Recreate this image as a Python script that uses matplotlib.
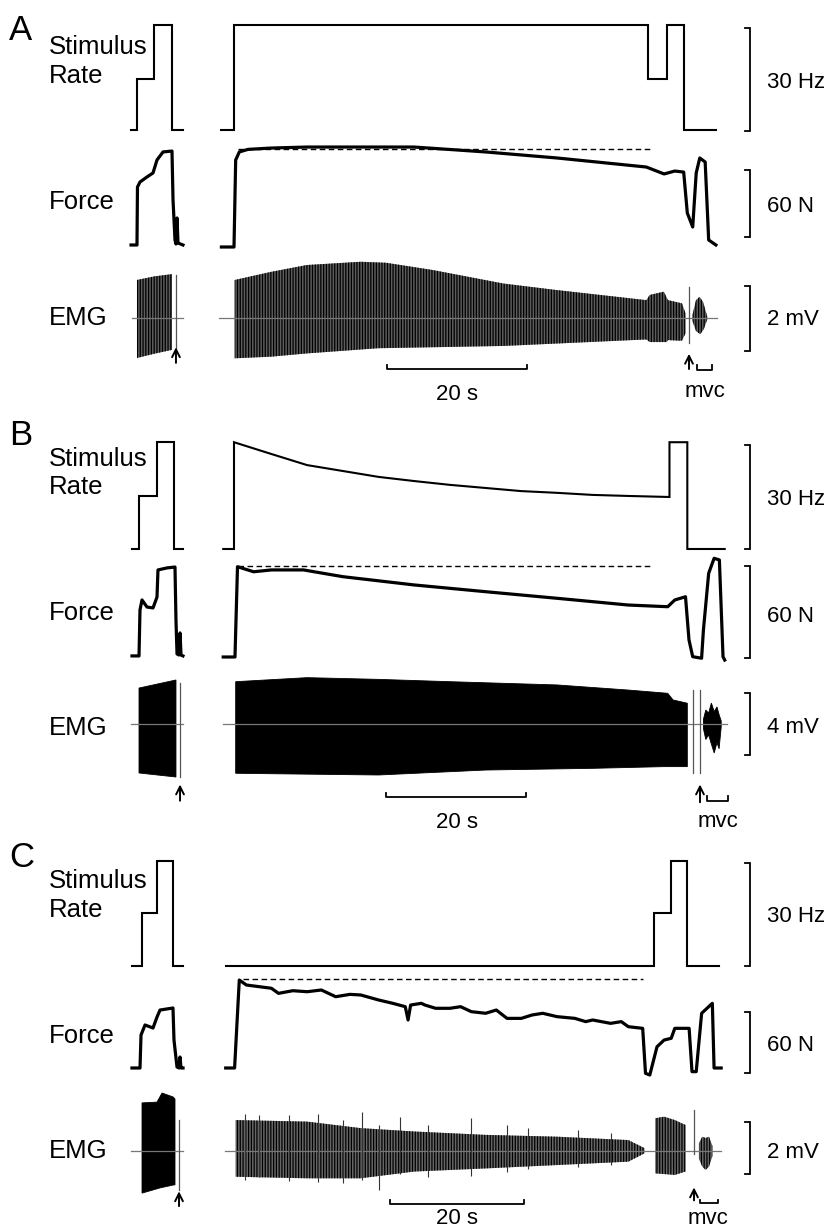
import numpy as np
import matplotlib
matplotlib.use('Agg')
import matplotlib.pyplot as plt

plt.rcParams['font.family'] = ['Liberation Sans', 'DejaVu Sans']
plt.rcParams['hatch.linewidth'] = 0.9

W, H = 827, 1230

# ---------------- panel A (time in s, rate in Hz, force in N, EMG in mV)
a_stim_test_t = [-14.7, -13.9, -13.9, -11.4, -11.4, -8.9, -8.9, -7.3]
a_stim_test_hz = [0, 0, 15, 15, 30.5, 30.5, 0, 0]
a_stim_t = [-1.8, 0, 0, 59.2, 59.2, 61.8, 61.8, 64.3, 64.3, 68.9]
a_stim_hz = [0, 0, 30.5, 30.5, 15, 15, 30.5, 30.5, 0, 0]

a_force_test_t = [-14.71, -13.86, -13.79, -13.43, -12.43, -11.57, -11.0, -10.14, -8.86,
                  -8.71, -8.43, -8.29, -8.14, -8.0, -7.29]
a_force_test_n = [0.9, 0.9, 52.8, 57.3, 61.8, 65.4, 77.0, 84.2, 85.0, 41.2, 5.4, 1.8, 25.1, 2.7, 0.9]
a_force_t = [-1.8, 0, 0.24, 0.76, 2.0, 5.34, 10.44, 25.74, 35.94, 46.14, 58.9, 61.44, 62.97,
             64.24, 64.76, 65.53, 66.03, 66.54, 67.31, 67.81, 68.84]
a_force_n = [-0.9, -0.9, 77.0, 84.2, 86.5, 87.7, 88.6, 88.6, 84.2, 78.8, 70.7, 64.5, 67.1,
             66.2, 29.5, 17.0, 65.4, 78.8, 75.2, 5.4, 0.9]
a_ref_force = 86.8
a_ref_span = [0.5, 59.9]

a_emg_test_top_t = [-13.86, -11.4, -8.86]
a_emg_test_top = [1.17, 1.28, 1.35]
a_emg_test_bot_t = [-13.86, -11.4, -8.86]
a_emg_test_bot = [-1.23, -1.1, -0.98]
a_emg_top_t = [0.1, 5.3, 10.4, 18.1, 21.7, 28.3, 38.5, 46.1, 58.9, 59.4, 61.4, 62.0, 64.0, 64.5]
a_emg_top = [1.17, 1.42, 1.63, 1.73, 1.70, 1.48, 1.06, 0.86, 0.55, 0.71, 0.81, 0.55, 0.45, 0.14]
a_emg_bot_t = [0.1, 5.3, 10.4, 20.6, 38.5, 58.9, 59.4, 61.8, 62.0, 64.0, 64.5]
a_emg_bot = [-1.24, -1.19, -1.09, -0.93, -0.86, -0.66, -0.74, -0.74, -0.68, -0.70, -0.47]
a_mvc_top_t = [65.5, 66.0, 66.5, 67.0, 67.6]
a_mvc_top = [0.1, 0.55, 0.65, 0.5, 0.05]
a_mvc_bot_t = [65.5, 66.0, 66.6, 67.1, 67.6]
a_mvc_bot = [-0.1, -0.4, -0.5, -0.35, -0.05]
a_emg_spans = [[-14.6, -7.3], [-2.1, 69.0]]
a_emg_lines = [[-8.29, -0.92, 1.32], [65.0, -0.77, 0.95]]
a_mvc = [66.1, 68.3]

# ---------------- panel B
b_stim_test_t = [-14.57, -13.57, -13.57, -11.0, -11.0, -8.57, -8.57, -7.29]
b_stim_test_hz = [0, 0, 15.3, 15.3, 30.8, 30.8, 0, 0]
b_stim_t = [-1.54, 0, 0, 5.34, 10.44, 15.54, 20.64, 25.74, 30.84, 35.94, 41.04, 46.14,
            51.24, 56.34, 62.21, 62.21, 64.76, 64.76, 70.1]
b_stim_hz = [0, 0, 30.8, 27.4, 24.2, 22.5, 20.8, 19.6, 18.5, 17.6, 16.7, 16.2,
             15.6, 15.3, 15.0, 30.8, 30.8, 0, 0]

b_force_test_t = [-14.57, -13.57, -13.43, -13.14, -12.43, -11.57, -11.0, -10.86, -9.57,
                  -8.43, -8.29, -8.14, -7.86, -7.71, -7.57, -7.29]
b_force_test_n = [0.7, 0.7, 30.7, 37.2, 32.6, 32.0, 39.1, 56.8, 58.1, 58.7, 24.1, 2.0,
                  1.3, 15.7, 1.3, 0.7]
b_force_t = [-1.54, 0.14, 0.5, 2.8, 5.34, 9.93, 15.54, 25.74, 35.94, 46.14, 56.34, 61.96,
             62.97, 64.5, 65.0, 65.53, 66.8, 67.06, 67.81, 68.59, 69.34, 69.86, 70.1]
b_force_n = [0, 0, 58.9, 55.6, 56.8, 56.8, 52.4, 47.0, 42.6, 38.3, 33.9, 32.8,
             37.2, 39.3, 11.1, 0.2, -0.8, 17.6, 54.6, 64.4, 63.3, 0.2, -2.0]
b_ref_force = 59.5
b_ref_span = [0.5, 59.9]

b_emg_test_top_t = [-13.57, -8.29]
b_emg_test_top = [2.32, 2.84]
b_emg_test_bot_t = [-13.57, -8.29]
b_emg_test_bot = [-3.16, -3.42]
b_emg_top_t = [0.24, 10.44, 20.64, 30.84, 46.14, 56.34, 61.96, 62.73, 64.76]
b_emg_top = [2.73, 2.99, 2.88, 2.73, 2.52, 2.19, 1.98, 1.55, 1.34]
b_emg_bot_t = [0.24, 20.64, 35.94, 51.24, 61.44, 64.76]
b_emg_bot = [-3.18, -3.29, -2.97, -2.86, -2.75, -2.75]
b_mvc_top_t = [67.06, 67.4, 67.8, 68.2, 68.6, 69.0, 69.3, 69.6]
b_mvc_top = [0.3, 0.9, 0.7, 1.35, 0.8, 1.1, 0.6, 0.2]
b_mvc_bot_t = [67.06, 67.4, 67.8, 68.2, 68.6, 69.0, 69.3, 69.6]
b_mvc_bot = [-0.3, -1.0, -0.7, -1.3, -1.87, -1.2, -1.6, -0.2]
b_emg_spans = [[-14.71, -7.29], [-1.57, 70.4]]
b_emg_lines = [[-7.71, -3.42, 2.65], [65.53, -3.18, 2.19], [66.54, -3.18, 2.19]]
b_mvc = [67.6, 70.6]

# ---------------- panel C
c_stim_test_t = [-15.25, -13.75, -13.75, -11.51, -11.51, -9.12, -9.12, -7.62]
c_stim_test_hz = [0, 0, 15.5, 15.5, 30.6, 30.6, 0, 0]
c_stim_t = [-1.24, 62.79, 62.79, 65.25, 65.25, 67.76, 67.76, 72.56]
c_stim_hz = [0, 0, 15.5, 15.5, 30.6, 30.6, 0, 0]

c_force_test_t = [-15.25, -14.05, -13.9, -13.3, -12.11, -11.51, -11.06, -9.12, -8.97,
                  -8.52, -8.22, -8.07, -7.92, -7.62]
c_force_test_n = [0, 0, 32.4, 42.3, 39.3, 50.1, 57.0, 59.0, 27.5, 1.0, 0, 10.8, 0, 0]
c_force_t = [-1.24, 0.09, 0.79, 1.85, 5.59, 6.65, 8.79, 10.93, 13.06, 15.2, 17.33, 18.94,
             21.6, 23.73, 25.6, 26.02, 26.4, 28.0, 28.54, 30.14, 32.27, 33.87, 35.47,
             37.61, 39.21, 40.81, 42.94, 44.54, 46.14, 48.28, 50.96, 52.56, 53.62, 56.29,
             57.89, 58.95, 61.09, 61.51, 62.15, 63.23, 64.29, 65.35, 65.89, 68.03, 68.46,
             69.09, 69.9, 71.5, 71.76, 72.82]
c_force_n = [0, 0, 86.5, 81.6, 78.4, 73.4, 76.0, 75.0, 76.7, 70.1, 72.4, 71.8,
             66.9, 63.6, 60.3, 47.2, 61.9, 63.6, 61.9, 58.7, 58.7, 60.3, 55.4,
             53.8, 57.0, 48.8, 48.8, 52.1, 53.8, 50.5, 48.8, 45.6, 47.2, 43.9,
             45.6, 40.6, 39.0, -5.2, -6.9, 20.9, 27.5, 29.2, 39.0, 39.0, -3.6,
             -3.6, 53.8, 63.6, 0, 0]
c_ref_force = 87.2
c_ref_span = [1.3, 61.1]

c_emg_test_top_t = [-13.75, -11.51, -10.76, -9.12, -8.82]
c_emg_test_top = [1.85, 1.88, 2.23, 2.08, 2.0]
c_emg_test_bot_t = [-13.75, -11.06, -9.12, -8.82]
c_emg_test_bot = [-1.62, -1.42, -1.31, -1.3]
c_emg_top_t = [0.25, 10.93, 18.94, 26.94, 37.61, 48.28, 58.95, 61.36]
c_emg_top = [1.19, 1.13, 0.88, 0.75, 0.62, 0.55, 0.42, 0.11]
c_emg_bot_t = [0.25, 10.93, 18.94, 26.94, 37.61, 48.28, 58.95, 61.36]
c_emg_bot = [-0.99, -1.05, -1.05, -0.79, -0.67, -0.54, -0.41, -0.09]
c_spike_t = [1.59, 3.72, 8.26, 12.53, 16.26, 19.19, 21.6, 24.8, 29.0, 35.47, 40.81, 44.0, 51.48, 56.29]
c_spike_top = [1.44, 1.38, 1.38, 1.44, 1.2, 1.51, 1.0, 1.32, 1.0, 1.26, 1.0, 0.9, 0.8, 0.7]
c_spike_bot = [-1.1, -1.0, -1.15, -1.2, -1.24, -1.1, -1.5, -0.9, -1.0, -0.95, -0.8, -0.7, -0.6, -0.55]
c_burst2_top_t = [62.96, 64.29, 65.89, 67.5]
c_burst2_top = [1.26, 1.32, 1.19, 1.0]
c_burst2_bot_t = [62.96, 65.89, 67.5]
c_burst2_bot = [-0.86, -0.92, -0.79]
c_mvc_top_t = [69.5, 70.0, 70.5, 71.0, 71.5]
c_mvc_top = [0.3, 0.55, 0.5, 0.55, 0.2]
c_mvc_bot_t = [69.5, 70.0, 70.5, 71.0, 71.5]
c_mvc_bot = [-0.3, -0.6, -0.73, -0.6, -0.2]
c_emg_spans = [[-15.4, -7.62], [-1.35, 72.8]]
c_emg_lines = [[-8.22, -1.5, 1.19], [68.8, -0.1, 1.58]]
c_mvc = [69.66, 72.35]

# scale bar values
rate_bar = 30
force_bar = 60
emg_bars = [2, 4, 2]
time_bar = 20

fig = plt.figure(figsize=(W / 100, H / 100), dpi=100)


def row_axes(t0, k, base, s):
    # one transparent axes over the whole figure, scaled in data units
    ax = fig.add_axes([0, 0, 1, 1])
    ax.set_xlim(-t0 / k, (W - t0) / k)
    ax.set_ylim((base - H) / s, base / s)
    ax.set_facecolor('none')
    ax.axis('off')
    return ax


def ftext(x, y, s, size, **kw):
    fig.text(x / W, 1 - y / H, s, fontsize=size, va='baseline', **kw)


def bracket(ax, x, y0, y1, tick):
    ax.plot([x - tick, x, x, x - tick], [y0, y0, y1, y1], color='k', lw=1.3,
            solid_joinstyle='miter')


def burst(ax, tt, vt, tb, vb, style):
    fc, hc, hatch = style
    xs = np.concatenate([tt, np.array(tb)[::-1]])
    ys = np.concatenate([vt, np.array(vb)[::-1]])
    if hatch:
        ax.fill(xs, ys, facecolor=fc, edgecolor=hc, hatch=hatch, linewidth=0)
    else:
        ax.fill(xs, ys, facecolor=fc, edgecolor=fc, linewidth=0.6)


solid = ('black', None, None)
striped_a = ('#5c5c5c', 'black', '||||||')
striped_c = ('#666666', 'black', '||||||')

panels = [
    dict(k=7.0, stim=(130, 3.43), force=(246, 1.117), emg=(318, 32.5),
         stim_test=(a_stim_test_t, a_stim_test_hz), stim_main=(a_stim_t, a_stim_hz),
         f_test=(a_force_test_t, a_force_test_n), f_main=(a_force_t, a_force_n),
         ref=(a_ref_force, a_ref_span),
         e_test=(a_emg_test_top_t, a_emg_test_top, a_emg_test_bot_t, a_emg_test_bot),
         e_main=(a_emg_top_t, a_emg_top, a_emg_bot_t, a_emg_bot),
         e_mvc=(a_mvc_top_t, a_mvc_top, a_mvc_bot_t, a_mvc_bot),
         spans=a_emg_spans, lines=a_emg_lines, mvc=a_mvc,
         styles=(striped_a, striped_a, striped_a),
         bars=dict(stim=-0.3, force=8, emg=-1.0, emg_len=emg_bars[0]),
         tbar=(21.86, -1.57), arrows=[(-8.29, -1.38, -0.9), (65.0, -1.57, -1.1)],
         mvc_y=(-1.6, 0.15)),
    dict(k=7.0, stim=(549, 3.467), force=(657, 1.533), emg=(724, 15.5),
         stim_test=(b_stim_test_t, b_stim_test_hz), stim_main=(b_stim_t, b_stim_hz),
         f_test=(b_force_test_t, b_force_test_n), f_main=(b_force_t, b_force_n),
         ref=(b_ref_force, b_ref_span),
         e_test=(b_emg_test_top_t, b_emg_test_top, b_emg_test_bot_t, b_emg_test_bot),
         e_main=(b_emg_top_t, b_emg_top, b_emg_bot_t, b_emg_bot),
         e_mvc=(b_mvc_top_t, b_mvc_top, b_mvc_bot_t, b_mvc_bot),
         spans=b_emg_spans, lines=b_emg_lines, mvc=b_mvc,
         styles=(solid, solid, solid),
         bars=dict(stim=0, force=-0.5, emg=-2.0, emg_len=emg_bars[1]),
         tbar=(21.66, -4.71), arrows=[(-7.71, -4.95, -3.9), (66.57, -5.05, -3.9)],
         mvc_y=(-4.97, 0.32)),
    dict(k=6.69, stim=(966, 3.43), force=(1068, 1.017), emg=(1151, 26.0),
         stim_test=(c_stim_test_t, c_stim_test_hz), stim_main=(c_stim_t, c_stim_hz),
         f_test=(c_force_test_t, c_force_test_n), f_main=(c_force_t, c_force_n),
         ref=(c_ref_force, c_ref_span),
         e_test=(c_emg_test_top_t, c_emg_test_top, c_emg_test_bot_t, c_emg_test_bot),
         e_main=(c_emg_top_t, c_emg_top, c_emg_bot_t, c_emg_bot),
         e_mvc=(c_mvc_top_t, c_mvc_top, c_mvc_bot_t, c_mvc_bot),
         spans=c_emg_spans, lines=c_emg_lines, mvc=c_mvc,
         styles=(solid, striped_c, striped_c),
         bars=dict(stim=0, force=-5, emg=-0.9, emg_len=emg_bars[2]),
         tbar=(23.3, -2.05), arrows=[(-8.22, -2.12, -1.55), (68.76, -1.9, -1.4)],
         mvc_y=(-2.0, 0.12)),
]

t0 = 234
bx = 750
for p in panels:
    k = p['k']
    ax_s = row_axes(t0, k, *p['stim'])
    ax_f = row_axes(t0, k, *p['force'])
    ax_e = row_axes(t0, k, *p['emg'])
    tick = 5 / k
    xb = (bx - t0) / k

    # stimulus rate
    for tt, vv in (p['stim_test'], p['stim_main']):
        ax_s.plot(tt, vv, color='k', lw=1.5, solid_joinstyle='miter')
    bracket(ax_s, xb, p['bars']['stim'], p['bars']['stim'] + rate_bar, tick)

    # force
    for tt, vv in (p['f_test'], p['f_main']):
        ax_f.plot(tt, vv, color='k', lw=2.3, solid_joinstyle='round')
    ref, span = p['ref']
    ax_f.plot(span, [ref, ref], color='k', lw=1.0, dashes=(4, 2.5))
    bracket(ax_f, xb, p['bars']['force'], p['bars']['force'] + force_bar, tick)

    # EMG
    for t_a, t_b in p['spans']:
        ax_e.plot([t_a, t_b], [0, 0], color='#777777', lw=0.9)
    if p is panels[2]:
        ax_e.vlines(c_spike_t, c_spike_bot, c_spike_top, color='#333333', lw=0.8)
        burst(ax_e, c_burst2_top_t, c_burst2_top, c_burst2_bot_t, c_burst2_bot, striped_c)
    for (tt, vt, tb, vb), st in zip((p['e_test'], p['e_main'], p['e_mvc']), p['styles']):
        burst(ax_e, tt, vt, tb, vb, st)
    for tl, y0, y1 in p['lines']:
        ax_e.plot([tl, tl], [y0, y1], color='#555555', lw=0.9)
    bracket(ax_e, xb, p['bars']['emg'], p['bars']['emg'] + p['bars']['emg_len'], tick)

    # time bar
    tb0, yb = p['tbar']
    es = p['emg'][1]
    up = 4 / es
    ax_e.plot([tb0, tb0, tb0 + time_bar, tb0 + time_bar], [yb + up, yb, yb, yb + up],
              color='k', lw=1.3)
    # mvc bracket
    m0, m1 = p['mvc']
    ym, hm = p['mvc_y']
    ax_e.plot([m0, m0, m1, m1], [ym + hm, ym, ym, ym + hm], color='k', lw=1.3)
    for ta, yl, yh in p['arrows']:
        ax_e.annotate('', xy=(ta, yh), xytext=(ta, yl),
                      arrowprops=dict(arrowstyle='->', color='k', lw=1.4,
                                      mutation_scale=14, shrinkA=0, shrinkB=0))

# labels
left = [('A', 40, 54, 83, 209, 325), ('B', 445, 466, 494, 620, 735), ('C', 867, 888, 917, 1043, 1158)]
for letter, yl, ys, yr, yf, ye in left:
    ftext(9, yl, letter, 25)
    ftext(49, ys, 'Stimulus', 18.5)
    ftext(49, yr, 'Rate', 18.5)
    ftext(49, yf, 'Force', 18.5)
    ftext(49, ye, 'EMG', 18.5)

right = [(88, 212, 325, '2 mV'), (505, 622, 733, '4 mV'), (922, 1051, 1158, '2 mV')]
for y1, y2, y3, emg_lab in right:
    ftext(767, y1, '30 Hz', 16)
    ftext(767, y2, '60 N', 16)
    ftext(767, y3, emg_lab, 16)

bottom = [(400, 705, 397), (828, 718, 827), (1224, 708, 1224)]
for ytb, xm, ym in bottom:
    ftext(457, ytb, '20 s', 16, ha='center')
    ftext(xm, ym, 'mvc', 16, ha='center')

fig.savefig('out.png', dpi=100)
